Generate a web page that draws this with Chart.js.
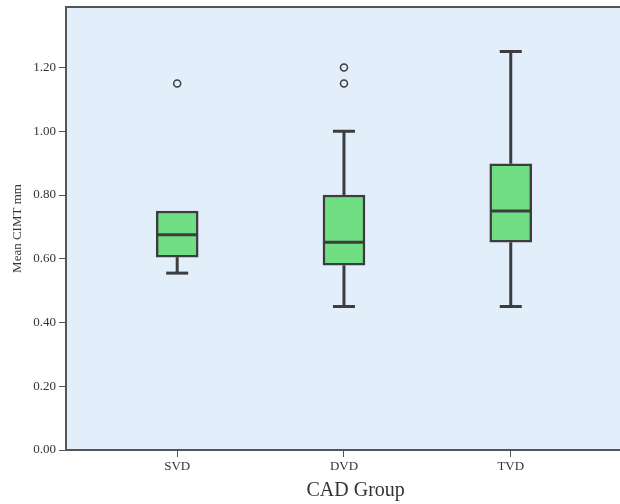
<!DOCTYPE html>
<html>
<head>
<meta charset="utf-8">
<script src="https://cdn.jsdelivr.net/npm/chart.js@4"></script>
<style>
  html, body { margin: 0; padding: 0; background: #fff; }
  #wrap { width: 620px; height: 504px; }
</style>
</head>
<body>
<div id="wrap"><canvas id="cimt"></canvas></div>
<script>
const groups = ['SVD', 'DVD', 'TVD'];
const whiskerLow = [0.555, 0.45, 0.45];
const q1 = [0.605, 0.58, 0.652];
const median = [0.675, 0.652, 0.75];
const q3 = [0.75, 0.80, 0.898];
const whiskerHigh = [0.75, 1.00, 1.25];
const outliers = [[1.15], [1.15, 1.20], []];
const yTicks = [0, 0.2, 0.4, 0.6, 0.8, 1.0, 1.2];

const lineColor = '#3d3d40';
const font = 'Liberation Serif';

const boxes = groups.map((g, i) => ({ x: i + 1, y: [q1[i], q3[i]] }));
const outlierPts = [];
outliers.forEach((list, i) => list.forEach(v => outlierPts.push({ x: i + 1, y: v })));

// background, frame, whiskers, medians and the x title
const boxExtras = {
  id: 'boxExtras',
  beforeDraw(chart) {
    const { ctx, chartArea: a } = chart;
    ctx.save();
    ctx.fillStyle = '#e3eefb';
    ctx.fillRect(a.left, a.top, a.right - a.left, a.bottom - a.top);
    ctx.restore();
  },
  beforeDatasetsDraw(chart) {
    const { ctx, scales: { x, y } } = chart;
    ctx.save();
    ctx.strokeStyle = lineColor;
    ctx.lineWidth = 3;
    groups.forEach((g, i) => {
      const px = x.getPixelForValue(i + 1);
      ctx.beginPath();
      ctx.moveTo(px, y.getPixelForValue(whiskerLow[i]));
      ctx.lineTo(px, y.getPixelForValue(q1[i]));
      ctx.moveTo(px, y.getPixelForValue(q3[i]));
      ctx.lineTo(px, y.getPixelForValue(whiskerHigh[i]));
      ctx.stroke();
      ctx.beginPath();
      ctx.moveTo(px - 11, y.getPixelForValue(whiskerLow[i]));
      ctx.lineTo(px + 11, y.getPixelForValue(whiskerLow[i]));
      if (whiskerHigh[i] > q3[i]) {
        ctx.moveTo(px - 11, y.getPixelForValue(whiskerHigh[i]));
        ctx.lineTo(px + 11, y.getPixelForValue(whiskerHigh[i]));
      }
      ctx.stroke();
    });
    ctx.restore();
  },
  afterDatasetsDraw(chart) {
    const { ctx, scales: { x, y }, chartArea: a } = chart;
    ctx.save();
    ctx.strokeStyle = lineColor;
    ctx.lineWidth = 3;
    groups.forEach((g, i) => {
      const px = x.getPixelForValue(i + 1);
      const py = y.getPixelForValue(median[i]);
      ctx.beginPath();
      ctx.moveTo(px - 20, py);
      ctx.lineTo(px + 20, py);
      ctx.stroke();
    });
    // top edge of the frame
    ctx.strokeStyle = '#555';
    ctx.lineWidth = 2;
    ctx.beginPath();
    ctx.moveTo(a.left, a.top);
    ctx.lineTo(a.right, a.top);
    ctx.stroke();
    // x title: the original frame runs past the picture, so its centre is right of ours
    ctx.fillStyle = '#333';
    ctx.font = '20px "' + font + '"';
    ctx.textAlign = 'center';
    ctx.textBaseline = 'middle';
    ctx.fillText('CAD Group', x.getPixelForValue(2.07), chart.height - 13);
    ctx.restore();
  }
};

new Chart(document.getElementById('cimt'), {
  type: 'bar',
  data: {
    datasets: [{
      type: 'bar',
      data: boxes,
      backgroundColor: '#70de82',
      borderColor: lineColor,
      borderWidth: 2.5,
      borderSkipped: false,
      barThickness: 42
    }, {
      type: 'scatter',
      data: outlierPts,
      pointStyle: 'circle',
      pointRadius: 3.5,
      pointBorderWidth: 1.5,
      pointBorderColor: lineColor,
      pointBackgroundColor: 'rgba(0,0,0,0)'
    }]
  },
  plugins: [boxExtras],
  options: {
    responsive: true,
    maintainAspectRatio: false,
    animation: false,
    layout: { autoPadding: false, padding: { top: 7, left: 0, right: 0, bottom: 0 } },
    plugins: {
      legend: { display: false },
      tooltip: { enabled: false }
    },
    scales: {
      x: {
        type: 'linear',
        offset: false,
        min: 1 / 3,
        max: 3.655,
        afterBuildTicks: (scale) => { scale.ticks = groups.map((g, i) => ({ value: i + 1 })); },
        afterFit: (scale) => {
          scale.height = 54;
          scale.paddingLeft = 0;
          scale.paddingRight = 0;
        },
        grid: { display: true, offset: false, drawOnChartArea: false, drawTicks: true, tickLength: 7, color: '#555' },
        border: { display: true, color: '#555', width: 2 },
        ticks: {
          padding: 2,
          color: '#333',
          font: { family: font, size: 13 },
          callback: (v) => groups[v - 1]
        },
        title: { display: false }
      },
      y: {
        min: 0,
        max: 1.39,
        afterBuildTicks: (scale) => { scale.ticks = yTicks.map(v => ({ value: v })); },
        afterFit: (scale) => {
          scale.width = 66;
          scale.paddingTop = 0;
          scale.paddingBottom = 0;
        },
        grid: { display: true, drawOnChartArea: false, drawTicks: true, tickLength: 7, color: '#555' },
        border: { display: true, color: '#555', width: 2 },
        ticks: {
          padding: 3,
          color: '#333',
          font: { family: font, size: 13 },
          callback: (v) => v.toFixed(2)
        },
        title: {
          display: true,
          text: 'Mean CIMT mm',
          color: '#333',
          font: { family: font, size: 13 },
          padding: { top: 10, bottom: 0 }
        }
      }
    }
  }
});
</script>
</body>
</html>
